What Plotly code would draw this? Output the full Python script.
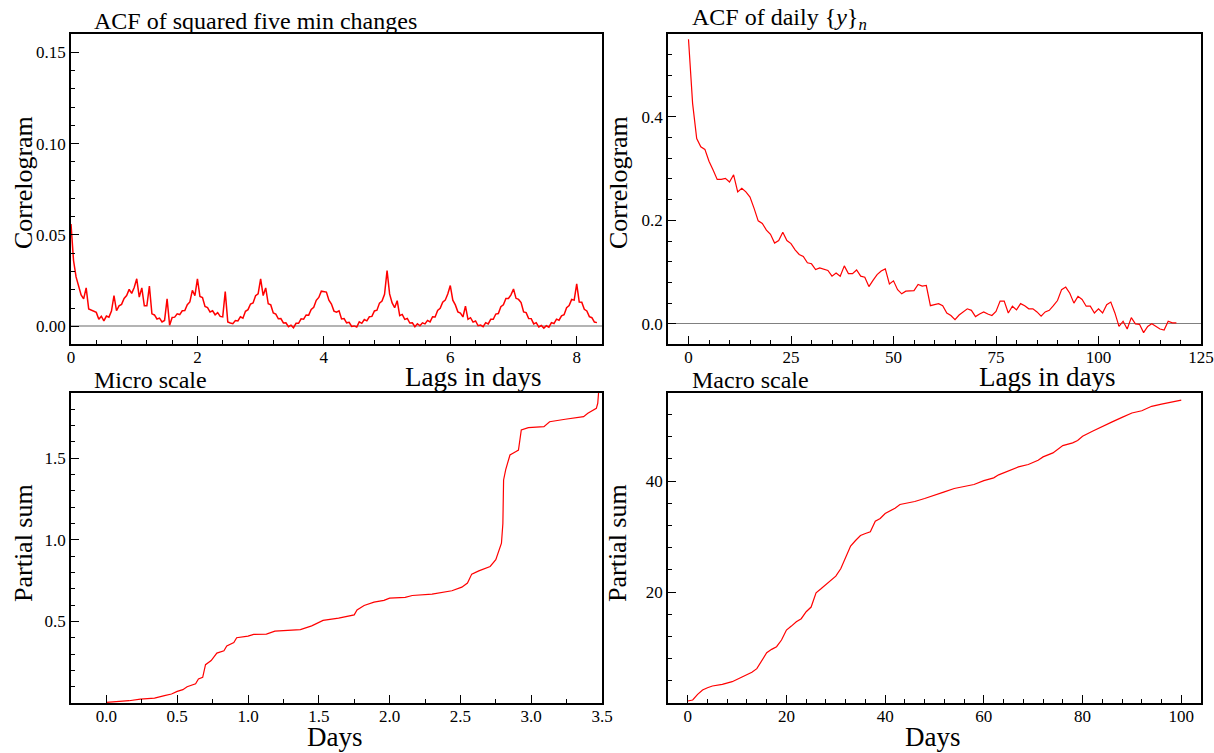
import plotly.graph_objects as go

# ---------------- data ----------------
# ACF of squared five-minute changes, sampled every 0.04 day
acf5_step_days = 0.04
acf5_values = [
    0.056, 0.036, 0.027, 0.0225, 0.0172, 0.0150, 0.0210, 0.0095, 0.0090, 0.0082,
    0.0076, 0.0038, 0.0055, 0.0030, 0.0056, 0.0050, 0.0083, 0.0168, 0.0085, 0.0112,
    0.0120, 0.0152, 0.0168, 0.0202, 0.0180, 0.0212, 0.0260, 0.0160, 0.0210, 0.0112,
    0.0112, 0.0220, 0.0068, 0.0062, 0.0040, 0.0045, 0.0024, 0.0032, 0.0150, 0.0006,
    0.0048, 0.0050, 0.0068, 0.0064, 0.0085, 0.0086, 0.0118, 0.0133, 0.0197, 0.0168,
    0.0260, 0.0163, 0.0157, 0.0108, 0.0102, 0.0078, 0.0085, 0.0063, 0.0075, 0.0054,
    0.0052, 0.0190, 0.0024, 0.0018, 0.0014, 0.0031, 0.0029, 0.0052, 0.0044, 0.0082,
    0.0091, 0.0122, 0.0128, 0.0167, 0.0178, 0.0260, 0.0168, 0.0210, 0.0123, 0.0117,
    0.0073, 0.0067, 0.0041, 0.0042, 0.0018, 0.0019, -0.0002, 0.0006, -0.0008, 0.0016,
    0.0016, 0.0041, 0.0039, 0.0062, 0.0061, 0.0092, 0.0104, 0.0142, 0.0158, 0.0192,
    0.0188, 0.0187, 0.0143, 0.0122, 0.0083, 0.0077, 0.0085, 0.0040, 0.0042, 0.0019,
    0.0022, -0.0001, 0.0002, -0.0004, 0.0024, 0.0016, 0.0037, 0.0030, 0.0052, 0.0054,
    0.0084, 0.0088, 0.0127, 0.0138, 0.0175, 0.0305, 0.0177, 0.0128, 0.0102, 0.0140,
    0.0058, 0.0065, 0.0038, 0.0043, 0.0018, 0.0019, -0.0002, 0.0014, 0.0003, 0.0019,
    0.0013, 0.0032, 0.0024, 0.0052, 0.0051, 0.0087, 0.0098, 0.0132, 0.0143, 0.0177,
    0.0223, 0.0143, 0.0117, 0.0079, 0.0072, 0.0051, 0.0110, 0.0038, 0.0047, 0.0023,
    0.0029, 0.0003, 0.0007, -0.0002, 0.0020, 0.0013, 0.0038, 0.0038, 0.0067, 0.0070,
    0.0107, 0.0118, 0.0152, 0.0152, 0.0172, 0.0204, 0.0153, 0.0147, 0.0130, 0.0079,
    0.0075, 0.0043, 0.0042, 0.0013, 0.0020, -0.0004, 0.0004, -0.0010, 0.0003, -0.0005,
    0.0020, 0.0015, 0.0039, 0.0033, 0.0057, 0.0063, 0.0102, 0.0113, 0.0147, 0.0143,
    0.0232, 0.0133, 0.0132, 0.0093, 0.0084, 0.0053, 0.0047, 0.0023, 0.0020,
]

# ACF of daily {y}_n, lags 0..119
acf_daily_values = [
    0.550, 0.426, 0.358, 0.342, 0.337, 0.314, 0.297, 0.279, 0.279, 0.281,
    0.274, 0.288, 0.255, 0.262, 0.255, 0.245, 0.223, 0.199, 0.194, 0.181,
    0.173, 0.156, 0.161, 0.177, 0.161, 0.155, 0.143, 0.134, 0.130, 0.118,
    0.116, 0.105, 0.108, 0.105, 0.103, 0.092, 0.098, 0.092, 0.112, 0.097,
    0.097, 0.104, 0.092, 0.090, 0.072, 0.084, 0.095, 0.102, 0.106, 0.077,
    0.083, 0.066, 0.058, 0.063, 0.064, 0.064, 0.076, 0.073, 0.074, 0.035,
    0.037, 0.039, 0.035, 0.021, 0.016, 0.008, 0.017, 0.023, 0.029, 0.026,
    0.014, 0.019, 0.023, 0.019, 0.016, 0.024, 0.044, 0.044, 0.021, 0.034,
    0.027, 0.039, 0.035, 0.029, 0.029, 0.023, 0.015, 0.023, 0.026, 0.035,
    0.045, 0.066, 0.071, 0.059, 0.040, 0.053, 0.047, 0.034, 0.034, 0.021,
    0.029, 0.021, 0.037, 0.042, 0.021, -0.005, 0.005, -0.010, 0.012, 0.000,
    -0.001, -0.017, -0.005, 0.000, -0.005, -0.010, -0.012, 0.005, 0.002, 0.002,
]

# Micro scale partial sum
micro_days = [0.0, 0.16, 0.24, 0.34, 0.41, 0.46, 0.50, 0.54, 0.57, 0.63, 0.65, 0.68,
              0.70, 0.74, 0.78, 0.83, 0.85, 0.90, 0.92, 1.00, 1.04, 1.13, 1.19, 1.37,
              1.45, 1.53, 1.64, 1.75, 1.77, 1.82, 1.89, 1.96, 2.00, 2.11, 2.16, 2.30,
              2.44, 2.51, 2.55, 2.58, 2.63, 2.71, 2.75, 2.77, 2.79, 2.80, 2.805, 2.82,
              2.85, 2.89, 2.91, 2.93, 2.98, 3.09, 3.13, 3.24, 3.30, 3.37, 3.40, 3.46,
              3.47, 3.48]
micro_psum = [0.004, 0.014, 0.024, 0.030, 0.045, 0.055, 0.071, 0.082, 0.100, 0.118, 0.147, 0.157,
              0.235, 0.260, 0.306, 0.320, 0.350, 0.370, 0.400, 0.410, 0.420, 0.422, 0.440, 0.450,
              0.473, 0.506, 0.520, 0.540, 0.570, 0.598, 0.618, 0.629, 0.643, 0.647, 0.659, 0.667,
              0.688, 0.710, 0.735, 0.790, 0.810, 0.837, 0.878, 0.929, 0.980, 1.100, 1.367, 1.430,
              1.520, 1.540, 1.550, 1.673, 1.688, 1.694, 1.724, 1.739, 1.745, 1.755, 1.776, 1.806,
              1.837, 1.950]

# Macro scale partial sum
macro_days = [0, 1, 2, 3, 4, 5, 7, 9, 11, 12, 13, 14, 15, 16, 17, 18, 19, 20,
              21, 22, 23, 24, 25, 26, 27, 28, 29, 30, 31, 32, 33, 34, 35, 36, 37, 38, 39, 40,
              41, 42, 43, 44, 46, 48, 50, 52, 54, 56, 58, 60, 62, 63, 65, 67, 69, 71, 72, 74,
              76, 78, 79, 80, 82, 84, 86, 88, 90, 92, 94, 96, 98, 100]
macro_psum = [0.36, 0.54, 1.56, 2.34, 2.76, 3.06, 3.36, 3.84, 4.68, 5.16, 5.53, 6.19, 7.57, 9.07,
              9.67, 10.15, 11.35, 13.15, 13.87, 14.65, 15.2, 16.46, 17.3, 19.88, 20.6, 21.38,
              22.16, 22.88, 24.2, 26.2, 28.29, 29.3, 30.2, 30.57, 30.87, 32.79, 33.27, 34.17,
              34.59, 35.13, 35.8, 35.98, 36.34, 36.88, 37.42, 38.08, 38.68, 39.1, 39.4, 40.1,
              40.6, 41.14, 41.8, 42.58, 43.0, 43.78, 44.38, 45.1, 46.42, 46.9, 47.33, 48.1,
              49.0, 49.9, 50.7, 51.5, 52.3, 52.7, 53.5, 53.9, 54.3, 54.6]

acf5_lags = [round(i * acf5_step_days, 2) for i in range(len(acf5_values))]
acf_daily_lags = list(range(len(acf_daily_values)))

# tick labels
tl_xticks = [0, 2, 4, 6, 8]
tl_yticks = [0.00, 0.05, 0.10, 0.15]
tr_xticks = [0, 25, 50, 75, 100, 125]
tr_yticks = [0.0, 0.2, 0.4]
bl_xticks = [0.0, 0.5, 1.0, 1.5, 2.0, 2.5, 3.0, 3.5]
bl_yticks = [0.5, 1.0, 1.5]
br_xticks = [0, 20, 40, 60, 80, 100]
br_yticks = [20, 40]

# ---------------- layout helpers ----------------
W, H = 1214, 753
SERIF = "Liberation Serif"


def dom_x(a, b):
    return [a / W, b / W]


def dom_y(top, bottom):
    return [1 - bottom / H, 1 - top / H]


def axis(domain, rng, tickvals, fmt, mdtick, mtick0, anchor, zero=None, standoff=0):
    d = dict(
        domain=domain, range=rng, anchor=anchor, automargin=False,
        showline=True, linecolor="black", linewidth=1.5, mirror=True,
        ticks="inside", ticklen=8, tickwidth=1.2, tickcolor="black",
        tickmode="array", tickvals=tickvals,
        ticktext=[fmt.format(v) for v in tickvals],
        tickfont=dict(family=SERIF, size=17, color="black"),
        ticklabelstandoff=standoff,
        showgrid=False, zeroline=False,
        minor=dict(ticks="inside", ticklen=4, tickwidth=1, tickcolor="black",
                   tickmode="linear", tick0=mtick0, dtick=mdtick, showgrid=False),
    )
    if zero is not None:
        d.update(zeroline=True, zerolinecolor=zero[0], zerolinewidth=zero[1])
    return d


LX = dom_x(71, 602)
RX = dom_x(668, 1201)
TY = dom_y(34, 344)
BY = dom_y(393, 703)
XS = -3

fig = go.Figure()
red = dict(color="#ff0000", width=1.2)
fig.add_trace(go.Scatter(x=acf5_lags, y=acf5_values, mode="lines",
                         line=dict(color="#ff0000", width=1.5),
                         xaxis="x", yaxis="y", showlegend=False))
fig.add_trace(go.Scatter(x=acf_daily_lags, y=acf_daily_values, mode="lines", line=red,
                         xaxis="x2", yaxis="y2", showlegend=False))
fig.add_trace(go.Scatter(x=micro_days, y=micro_psum, mode="lines", line=red,
                         xaxis="x3", yaxis="y3", showlegend=False))
fig.add_trace(go.Scatter(x=macro_days, y=macro_psum, mode="lines", line=red,
                         xaxis="x4", yaxis="y4", showlegend=False))

fig.update_layout(
    width=W, height=H,
    margin=dict(l=0, r=0, t=0, b=0, autoexpand=False),
    paper_bgcolor="white", plot_bgcolor="white",
    xaxis=axis(LX, [0, 8.4], tl_xticks, "{:d}", 0.4, 0, "y", standoff=XS),
    yaxis=axis(TY, [-0.0097, 0.160], tl_yticks, "{:.2f}", 0.01, 0, "x", zero=("#b4b4b4", 2)),
    xaxis2=axis(RX, [-5, 125], tr_xticks, "{:d}", 5, 0, "y2", standoff=XS),
    yaxis2=axis(TY, [-0.039, 0.56], tr_yticks, "{:.1f}", 0.04, 0, "x2", zero=("#808080", 1)),
    xaxis3=axis(LX, [-0.25, 3.5], bl_xticks, "{:.1f}", 0.25, 0, "y3", standoff=XS),
    yaxis3=axis(BY, [0, 1.9], bl_yticks, "{:.1f}", 0.1, 0, "x3"),
    xaxis4=axis(RX, [-4, 104], br_xticks, "{:d}", 4, 0, "y4", standoff=XS),
    yaxis4=axis(BY, [0, 55.9], br_yticks, "{:d}", 4, 0, "x4"),
)


def note(text, x, y, size, xanchor="left", yanchor="bottom", angle=0):
    fig.add_annotation(text=text, x=x / W, y=1 - y / H, xref="paper", yref="paper",
                       xanchor=xanchor, yanchor=yanchor, showarrow=False, textangle=angle,
                       borderpad=0,
                       font=dict(family=SERIF, size=size, color="black"))


note("ACF of squared five min changes", 93, 35, 24)
note("ACF of daily {<i>y</i>}<sub><i>n</i></sub>", 691, 35, 24)
note("Micro scale", 93, 394, 24)
note("Macro scale", 691, 394, 24)
note("Lags in days", 404, 393, 27)
note("Lags in days", 978, 393, 27)
note("Days", 335, 753, 27, xanchor="center")
note("Days", 933, 753, 27, xanchor="center")
note("Correlogram", 23, 183, 26, xanchor="center", yanchor="middle", angle=-90)
note("Correlogram", 618, 183, 26, xanchor="center", yanchor="middle", angle=-90)
note("Partial sum", 23, 543, 26, xanchor="center", yanchor="middle", angle=-90)
note("Partial sum", 617, 543, 26, xanchor="center", yanchor="middle", angle=-90)

fig.write_html(
    "out.html",
    config={"displayModeBar": False},
    post_script="document.body.style.margin='0';document.body.style.padding='0';"
                "document.body.style.overflow='hidden';",
)
